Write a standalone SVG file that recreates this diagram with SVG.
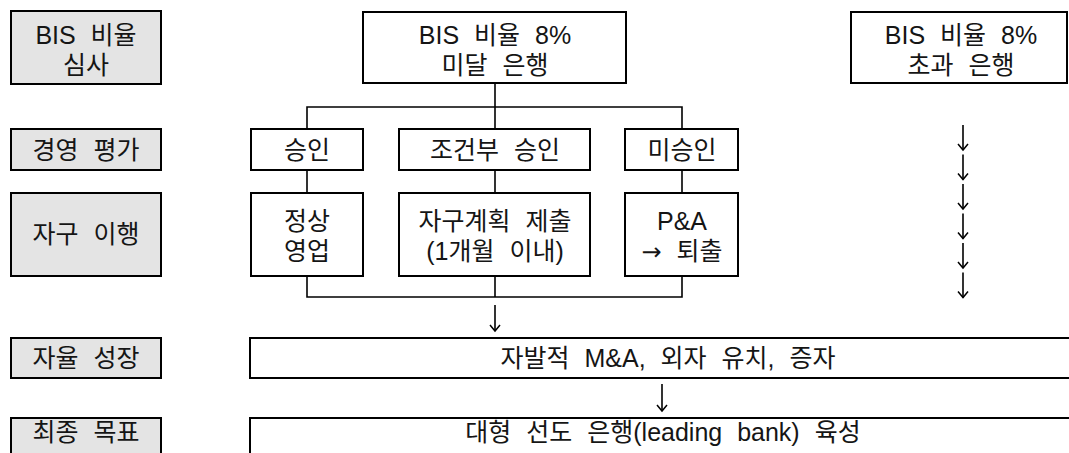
<svg xmlns="http://www.w3.org/2000/svg" width="1069" height="453" viewBox="0 0 1069 453">
<style>
text{font-family:"Liberation Sans","Noto Sans CJK KR",sans-serif;font-size:25px;fill:#151515;text-anchor:middle;word-spacing:8px}
.sym{font-family:"DejaVu Sans","Noto Sans CJK KR",sans-serif;font-size:24px}
.box{fill:#fff;stroke:#000;stroke-width:2}
.gray{fill:#e4e4e4;stroke:#000;stroke-width:2}
.con{fill:none;stroke:#000;stroke-width:1.6}
.arr{fill:none;stroke:#000;stroke-width:1.6;marker-end:url(#head)}
</style>
<defs>
<marker id="head" markerUnits="userSpaceOnUse" markerWidth="14" markerHeight="10" viewBox="-7 -8 14 10" refX="0" refY="0" orient="0" overflow="visible">
<path d="M-5,-6 L0,0 L5,-6" fill="none" stroke="#000" stroke-width="1.5"/>
</marker>
</defs>
<rect width="1069" height="453" fill="#fff"/>
<g id="connectors">
<path class="con" d="M495,83 V107 M307,129 V107 H682 V129 M495,107 V129"/>
<path class="con" d="M307,170 V193 M495,170 V193 M682,170 V193"/>
<path class="con" d="M307,276 V297 H682 V276 M495,276 V297"/>
<path class="arr" d="M495,305 V331"/>
<path class="arr" d="M662,384 V411"/>
<path class="arr" d="M963,125 V150"/>
<path class="arr" d="M963,154.5 V179.5"/>
<path class="arr" d="M963,184 V209"/>
<path class="arr" d="M963,213.5 V238.5"/>
<path class="arr" d="M963,243 V268"/>
<path class="arr" d="M963,272.5 V297.5"/>
</g>
<g id="stage-bis"><rect class="gray" x="11" y="11" width="150" height="73"/><text x="86" y="44">BIS 비율<tspan x="86" dy="30">심사</tspan></text></g>
<g id="stage-eval"><rect class="gray" x="11" y="129" width="150" height="41"/><text x="86" y="159">경영 평가</text></g>
<g id="stage-self"><rect class="gray" x="11" y="193" width="150" height="83"/><text x="86" y="243">자구 이행</text></g>
<g id="stage-growth"><rect class="gray" x="11" y="338" width="150" height="40"/><text x="86" y="367">자율 성장</text></g>
<g id="stage-goal"><rect class="gray" x="11" y="418" width="150" height="50"/><text x="86" y="441">최종 목표</text></g>
<g id="bank-under"><rect class="box" x="363" y="12" width="263" height="71"/><text x="495" y="44">BIS 비율 8%<tspan x="495" dy="30">미달 은행</tspan></text></g>
<g id="bank-over"><rect class="box" x="851" y="12" width="216" height="71"/><text x="961" y="44">BIS 비율 8%<tspan x="961" dy="30">초과 은행</tspan></text></g>
<g id="approve"><rect class="box" x="251" y="129" width="112" height="41"/><text x="307" y="159">승인</text></g>
<g id="cond-approve"><rect class="box" x="399" y="129" width="191" height="41"/><text x="495" y="159">조건부 승인</text></g>
<g id="reject"><rect class="box" x="625" y="129" width="113" height="41"/><text x="682" y="159">미승인</text></g>
<g id="normal"><rect class="box" x="251" y="193" width="112" height="83"/><text x="307" y="230">정상<tspan x="307" dy="30">영업</tspan></text></g>
<g id="plan"><rect class="box" x="399" y="193" width="191" height="83"/><text x="495" y="230">자구계획 제출<tspan x="495" dy="30">(1개월 이내)</tspan></text></g>
<g id="exit"><rect class="box" x="625" y="193" width="113" height="83"/><text x="682" y="230">P&amp;A<tspan x="682" dy="30"><tspan class="sym">→</tspan> 퇴출</tspan></text></g>
<g id="growth"><rect class="box" x="250" y="338" width="840" height="40"/><text x="668" y="367">자발적 M&amp;A, 외자 유치, 증자</text></g>
<g id="goal"><rect class="box" x="250" y="418" width="840" height="50"/><text x="663" y="441">대형 선도 은행(leading bank) 육성</text></g>
</svg>
